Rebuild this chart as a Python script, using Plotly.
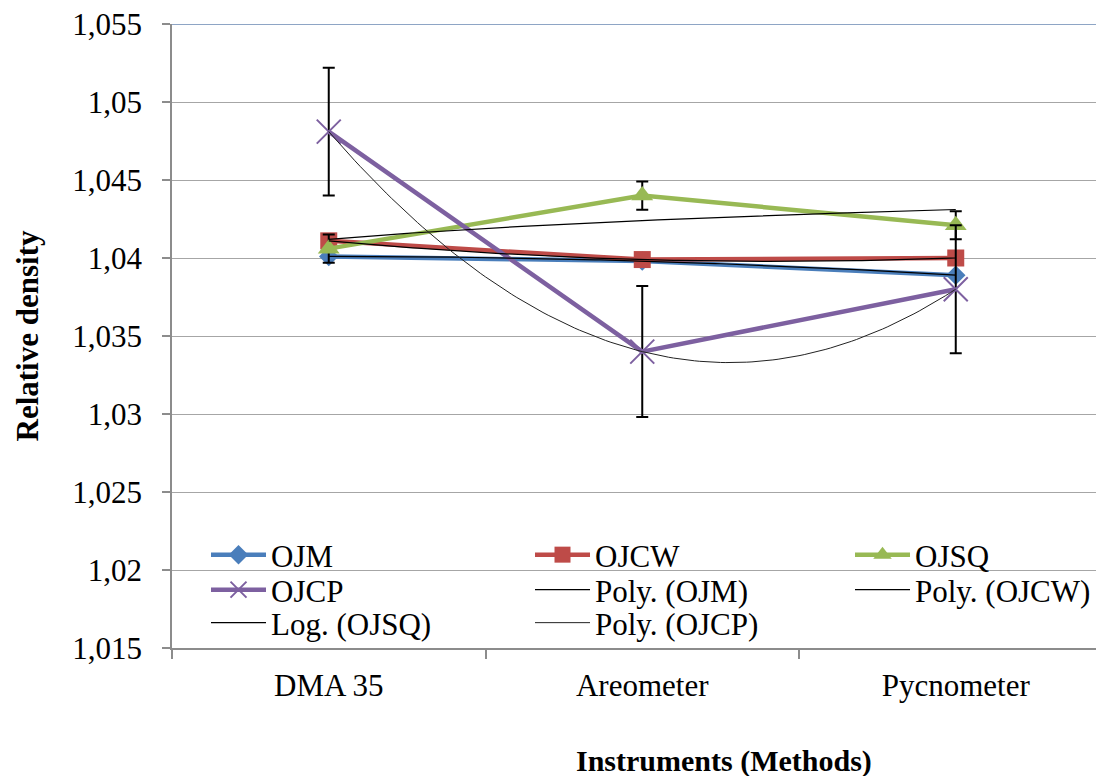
import numpy as np
import plotly.graph_objects as go

categories = ["DMA 35", "Areometer", "Pycnometer"]
x_pos = [1, 2, 3]

ojm = [1.0401, 1.0398, 1.0389]
ojcw = [1.0411, 1.0399, 1.0400]
ojsq = [1.0406, 1.0440, 1.0421]
ojcp = [1.0481, 1.0340, 1.0380]

ojsq_err = [0.0009, 0.0009, 0.0009]
ojcp_err = [0.0041, 0.0042, 0.0041]

y_ticks = [1.015, 1.02, 1.025, 1.03, 1.035, 1.04, 1.045, 1.05, 1.055]
y_ticktext = ["1,015", "1,02", "1,025", "1,03", "1,035", "1,04", "1,045", "1,05", "1,055"]

FONT = "Liberation Serif, Times New Roman, serif"
FS = 31

c_ojm = "#4A7EBB"
c_ojcw = "#BE4B48"
c_ojsq = "#98B954"
c_ojcp = "#7D60A0"

xs = np.linspace(1, 3, 121)

def poly2(y):
    p = np.polyfit(x_pos, y, 2)
    return np.polyval(p, xs)

def logfit(y):
    p = np.polyfit(np.log(x_pos), y, 1)
    return np.polyval(p, np.log(xs))

fig = go.Figure()

fig.add_trace(go.Scatter(x=x_pos, y=ojm, name="OJM", mode="lines+markers",
                         line=dict(color=c_ojm, width=4.5),
                         marker=dict(symbol="diamond", size=15, color=c_ojm),
                         legend="legend"))
fig.add_trace(go.Scatter(x=x_pos, y=ojcw, name="OJCW", mode="lines+markers",
                         line=dict(color=c_ojcw, width=4.5),
                         marker=dict(symbol="square", size=17, color=c_ojcw),
                         legend="legend2"))
fig.add_trace(go.Scatter(x=x_pos, y=ojsq, name="OJSQ", mode="lines+markers",
                         line=dict(color=c_ojsq, width=4.5),
                         marker=dict(symbol="triangle-up", size=19, color=c_ojsq),
                         error_y=dict(type="data", array=ojsq_err, color="black",
                                      thickness=2, width=6),
                         legend="legend3"))
fig.add_trace(go.Scatter(x=x_pos, y=ojcp, name="OJCP", mode="lines+markers",
                         line=dict(color=c_ojcp, width=4.5),
                         marker=dict(symbol="x-thin-open", size=24, color=c_ojcp,
                                     line=dict(color=c_ojcp, width=2)),
                         error_y=dict(type="data", array=ojcp_err, color="black",
                                      thickness=2, width=6),
                         legend="legend4"))

fig.add_trace(go.Scatter(x=xs, y=poly2(ojm), name="Poly. (OJM)", mode="lines",
                         line=dict(color="black", width=1.2), legend="legend5"))
fig.add_trace(go.Scatter(x=xs, y=poly2(ojcw), name="Poly. (OJCW)", mode="lines",
                         line=dict(color="black", width=1.2), legend="legend6"))
fig.add_trace(go.Scatter(x=xs, y=logfit(ojsq), name="Log. (OJSQ)", mode="lines",
                         line=dict(color="black", width=1.2), legend="legend7"))
fig.add_trace(go.Scatter(x=xs, y=poly2(ojcp), name="Poly. (OJCP)", mode="lines",
                         line=dict(color="#222222", width=1), legend="legend8"))

L, T, B = 172, 24, 128
W, H = 1096, 776
pw = W - L
ph = H - T - B
cat_px = 313.5

def px_x(px):
    return (px - L) / pw

def px_y(py):
    return (H - B - py) / ph

cols = [206, 530, 850]
rows = [555, 590, 623]
slots = [(0, 0), (1, 0), (2, 0), (0, 1), (1, 1), (2, 1), (0, 2), (1, 2)]
leg_names = ["legend", "legend2", "legend3", "legend4", "legend5", "legend6", "legend7", "legend8"]
legends = {}
for name, (c, r) in zip(leg_names, slots):
    legends[name] = dict(x=px_x(cols[c]), y=px_y(rows[r]), xanchor="left", yanchor="middle",
                         bgcolor="rgba(0,0,0,0)", borderwidth=0, itemwidth=55,
                         font=dict(family=FONT, size=FS, color="black"))

fig.update_layout(
    width=W, height=H,
    margin=dict(l=L, r=0, t=T, b=B),
    paper_bgcolor="white", plot_bgcolor="white",
    font=dict(family=FONT, size=FS, color="black"),
    showlegend=True,
    hovermode=False,
    **legends,
)

fig.update_xaxes(
    range=[0.5, 0.5 + pw / cat_px],
    tickmode="array", tickvals=x_pos, ticktext=categories,
    ticks="outside", ticklen=8, tickcolor="rgba(0,0,0,0)",
    minor=dict(tickmode="array", tickvals=[0.5, 1.5, 2.5, 3.5], ticks="outside",
               ticklen=9, tickcolor="#8C8C8C", tickwidth=1.5, showgrid=False),
    showgrid=False, zeroline=False,
    showline=True, linecolor="#8C8C8C", linewidth=1.5,
    tickfont=dict(family=FONT, size=FS, color="black"),
    ticklabelstandoff=1,
)
fig.update_yaxes(
    range=[1.015, 1.055],
    tickmode="array", tickvals=y_ticks, ticktext=y_ticktext,
    ticks="outside", ticklen=8, tickcolor="#8C8C8C", tickwidth=1.5,
    showgrid=True, gridcolor="#A6A6A6", gridwidth=1.2, zeroline=False,
    showline=True, linecolor="#8C8C8C", linewidth=1.5,
    tickfont=dict(family=FONT, size=FS, color="black"),
    ticklabelstandoff=14,
    title=dict(text="<b>Relative density</b>", font=dict(family=FONT, size=FS, color="black"),
               standoff=24),
)

fig.add_shape(type="line", xref="paper", yref="y", x0=0, x1=1, y0=1.055, y1=1.055,
              line=dict(color="#8EA5C5", width=2))

fig.add_annotation(text="<b>Instruments (Methods)</b>", xref="paper", yref="paper",
                   x=px_x(724), y=px_y(761), xanchor="center", yanchor="middle",
                   showarrow=False, font=dict(family=FONT, size=30, color="black"))

fig.write_html("out.html")
